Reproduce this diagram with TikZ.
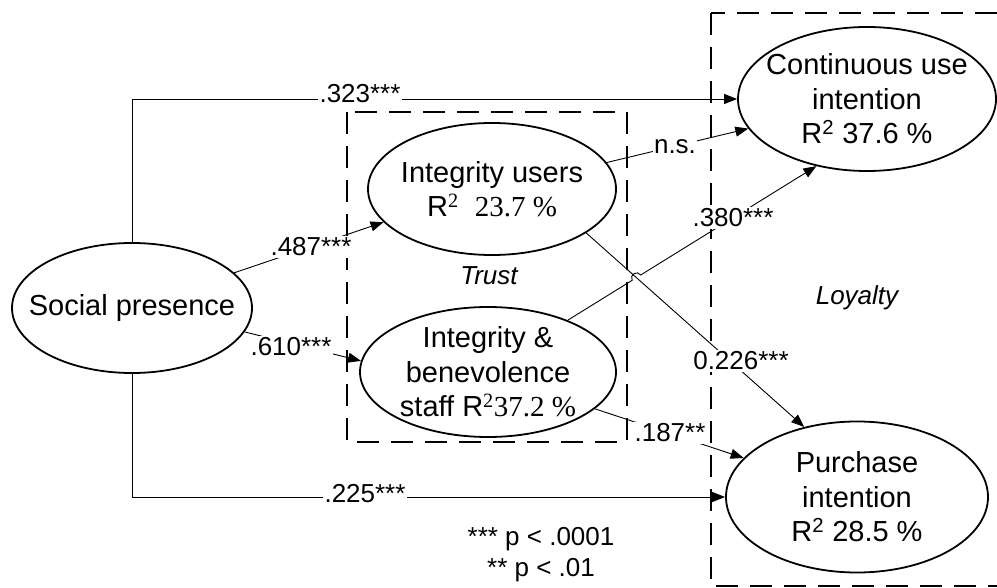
\documentclass[tikz,border=0pt]{standalone}
\usepackage{fontspec}
\setmainfont{Liberation Sans}
\newfontfamily\tnr{Liberation Serif}
\usetikzlibrary{arrows.meta,shapes.geometric,intersections,calc}
\begin{document}
\begin{tikzpicture}[x=1pt,y=-1pt,
  ell/.style={draw, ellipse, line width=1.8pt, inner sep=0pt, fill=white},
  etext/.style={align=center, font=\fontsize{29}{34.5}\selectfont, inner sep=0pt},
  coef/.style={fill=white, inner sep=1.5pt, font=\fontsize{26}{30}\selectfont},
  conn/.style={line width=0.9pt, -{Triangle[length=13pt,width=10pt]}},
  grp/.style={draw, dash pattern=on 22pt off 12pt, line width=1.5pt},
  grplabel/.style={font=\fontsize{26}{30}\selectfont\itshape, inner sep=0pt}
]
\useasboundingbox (0,0) rectangle (997,588);

% group boxes
\draw[grp] (347,112) rectangle (627,442);
\draw[grp] (711,13) rectangle (1012,586);

% constructs
\node[ell, minimum width=240pt, minimum height=130pt] (sp) at (132,308) {};
\node[ell, minimum width=248pt, minimum height=132pt] (iu) at (492,189) {};
\node[ell, minimum width=256pt, minimum height=130pt] (ib) at (488,372) {};
\node[ell, minimum width=258pt, minimum height=144pt] (cu) at (867,99) {};
\node[ell, minimum width=262pt, minimum height=151pt] (pi) at (857,497) {};

\node[etext] (spt) at (sp) {Social presence};
\node[etext] (iut) at (iu) {Integrity users\\R\textsuperscript{\tnr 2}\ \ {\tnr 23.7 \%}};
\node[etext] (ibt) at (ib) {Integrity \&\\benevolence\\staff R\textsuperscript{\tnr 2}{\tnr 37.2 \%}};
\node[etext] (cut) at (cu) {Continuous use\\intention\\R\textsuperscript{2} 37.6 \%};
\node[etext] (pit) at (pi) {Purchase\\intention\\R\textsuperscript{2} 28.5 \%};

% group labels
\node[grplabel] (trust) at (489,276) {Trust};
\node[grplabel] (loyalty) at (857,298) {Loyalty};

% paths
\draw[conn] (sp.north) |- (cu.west);
\draw[conn] (sp.south) |- (pi.west);
\draw[conn] (sp.19) -- (iu.197);
\draw[conn] (sp.-12) -- (ib.175);
\draw[conn] (iu.13) -- (cu.194);
\draw[conn] (iu.-25) -- (pi.127);
\draw[conn] (ib.-19) -- (pi.161);

\path[name path=p380] (ib.33) -- (cu.233);
\path[name path=p226] (iu.-25) -- (pi.127);
\path[name intersections={of=p380 and p226, by={X}}];
\draw[conn] (ib.33) -- ($(X)!5pt!(ib.33)$) to[bend left=90, looseness=1.6] ($(X)!5pt!(cu.233)$) -- (cu.233);

% coefficients
\node[coef] (c323) at (360,94) {.323***};
\node[coef] (c225) at (365,494) {.225***};
\node[coef] (c487) at (311,247) {.487***};
\node[coef] (c610) at (291,347) {.610***};
\node[coef] (cns) at (675,147) {n.s.};
\node[coef] (c380) at (733,218) {.380***};
\node[coef] (c226) at (741,361) {0.226***};
\node[coef] (c187) at (670,433) {.187**};

% note
\node[align=center, font=\fontsize{26}{31}\selectfont, inner sep=0pt] (note) at (541,555) {*** p < .0001\\** p < .01};
\end{tikzpicture}
\end{document}
